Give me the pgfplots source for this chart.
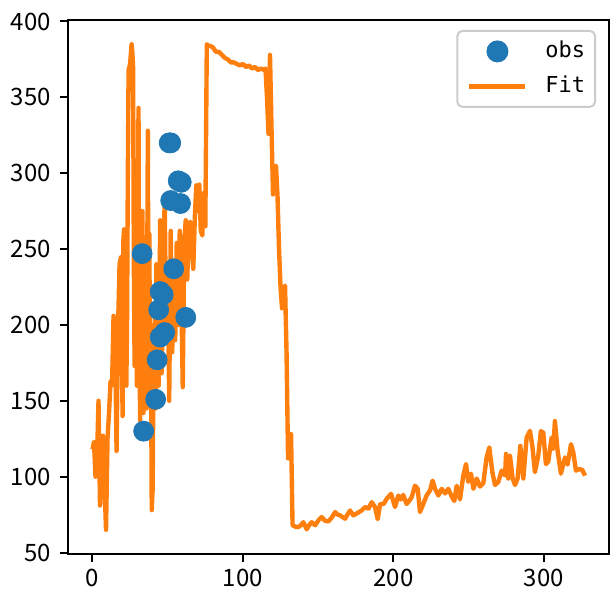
\documentclass[border=0pt]{standalone}
\usepackage{pgfplots}
\pgfplotsset{compat=1.18}
\usepackage{fontspec}
\setmainfont{Noto Sans CJK SC}
\newfontfamily\legfont{DejaVu Sans Mono}
\definecolor{cblue}{HTML}{1F77B4}
\definecolor{corange}{HTML}{FF7F0E}
\pgfplotsset{
  mymarklegend/.style={legend image code/.code={\path[##1, fill opacity=1, draw opacity=1] plot[only marks] coordinates {(14pt,0pt)};\path[draw=none] (0pt,0) -- (38pt,0);}},
  mylinelegend/.style={legend image code/.code={\draw[##1, draw opacity=1] (0pt,0pt) -- (28pt,0pt);\path[draw=none] (28pt,0) -- (38pt,0);}},
}
\begin{document}
\begin{tikzpicture}
\begin{axis}[
  scale only axis, width=271pt, height=267.5pt,
  xmin=-16.35, xmax=343.35, ymin=49, ymax=401,
  xtick={0,100,200,300}, ytick={50,100,150,200,250,300,350,400},
  xtick pos=bottom, ytick pos=left, tick align=outside,
  major tick length=4pt,
  axis line style={line width=1pt}, every tick/.style={black,line width=1pt},
  /pgf/number format/assume math mode=true,
  tick label style={font=\fontsize{12}{14}\selectfont},
  yticklabel style={xshift=-1pt},
  legend style={at={(1,1)}, anchor=north east, xshift=-6.5pt, yshift=-5pt,
    draw=black!20, line width=1pt, rounded corners=2.5pt, fill=white, fill opacity=0.8, text opacity=1,
    inner xsep=5pt, inner ysep=5pt, row sep=7pt, column sep=0pt,
    font=\legfont\fontsize{11}{13}\selectfont,
    nodes={inner sep=0pt, text height=8.5pt, text depth=2pt}},
  legend cell align=left,
]
\coordinate (ll) at (rel axis cs:0,0);
\coordinate (ur) at (rel axis cs:1,1);
\addplot[only marks, mark=*, mark size=5pt, color=cblue, mark options={fill=cblue, draw=cblue}, mymarklegend]
coordinates {
(34,130) (42,151) (43,177) (45,192) (48,195) (44,210) (47,220) (45,222) (33,247) (54,237)
(62,205) (52,282) (58.5,280) (57,295) (59,294) (51,320) (52,320)
};
\addlegendentry{obs}
\addplot[color=corange, line width=2.2pt, line join=round, mylinelegend]
coordinates {
(0,118) (1,123) (2,100) (3,112) (4,150) (5,81) (6,100) (7,127) (8,95) (9,65)
(10,125) (11,142) (12,163) (13,160) (14,206) (15,195) (16,117) (17,199) (18,240) (19,245)
(20,140) (20.5,255) (21,263) (21.5,200) (22,240) (22.5,160) (23,205) (23.5,300) (24,368) (25,372)
(26,385) (26.5,380) (27,370) (27.5,240) (28,173) (28.5,250) (29,300) (29.5,160) (30,250) (30.6,343)
(31,200) (31.7,137) (32.2,275) (32.7,170) (33.2,275) (33.9,142) (34.4,240) (35,150) (35.5,210) (36,145)
(36.8,328) (37.3,160) (37.8,260) (38.3,150) (38.8,200) (39.4,78) (40,92) (40.5,165) (41,150) (41.5,205)
(42,145) (42.5,240) (43,180) (43.5,230) (44,160) (45,269) (45.5,170) (46,168) (47,230) (48,284) (49,190)
(50,235) (51,150) (52,262) (53,182) (54,240) (55,190) (56,254) (57,200) (58,262) (59,222)
(60,159) (61,255) (62,269) (63,230) (64,266) (65,268) (66,250) (67,237) (68,270) (69,292)
(70,275) (71,292.5) (72,262) (73,259) (74,287) (75,265) (76,385) (77,384)
(78,384) (80,383) (82,380) (84,380) (86,378) (88,376) (90,375) (92,373) (94,373) (96,372)
(98,371) (100,372) (102,370) (104,371) (106,369) (108,370) (110,368) (112,369) (114,368) (115,369)
(116,350) (117,326) (118,378) (119,330) (120,286) (121,300) (122,305) (123,285) (124,250) (125,225)
(126,211) (127,222) (128,226) (129,182) (130,112) (131,128) (132,128) (133,68)
(135,67) (136.9,66.8) (138.5,68) (140.2,70) (142.4,65.3) (144,68) (145.7,70) (148,68) (150.2,71.2) (152.4,73.4)
(154.5,71) (156.8,70.5) (159,73) (161.3,76.7) (163,75) (164.6,74.5) (167.9,72.3) (169.5,75) (171.2,77.7) (173.4,74.5)
(176,76) (178.9,77.7) (181.2,80) (183.5,79) (185.6,83.2) (187.8,80) (189.6,72) (191.2,82) (193.5,82) (195.6,85.4)
(198.5,88.7) (201.1,80) (203.3,87.6) (205,85) (206.6,88) (208.8,82) (210.5,84) (212.2,86.5) (214.4,94.1) (216.2,92)
(217.7,76.7) (219.9,82) (222.1,87.6) (224.4,91) (226.1,97.4) (227.7,92) (229.9,87.6) (232.1,92) (234.4,89) (236.5,92)
(238.8,87) (240.5,84) (242.1,94) (244.3,85) (246.5,100.7) (248.3,108.3) (249.8,96.6) (251.6,102) (253.2,92) (255.4,98.8)
(257.6,93.5) (259.8,95.7) (262,112.7) (263.8,119.3) (265.8,103) (267.6,94.5) (269.8,96.6) (272,104) (274.3,100.8) (274.9,115)
(276.4,98.8) (277.5,114) (279.3,98.8) (280.9,94.5) (282.6,98.8) (284.4,120.3) (286.4,98.8) (288.6,125.8) (290.8,130.2) (292.4,120.3)
(294.1,103) (296.3,113.6) (298.1,130) (299.7,129) (301.4,108.3) (303,110) (305.2,125.8) (306.3,118.3) (307.4,136.7) (309.2,117)
(311.4,102) (314.1,112.7) (315.8,108) (318.1,121.4) (319.6,116) (321.4,104) (323.6,105) (325.6,104.5) (327.4,100.7)
};
\addlegendentry{Fit}
\end{axis}
\pgfresetboundingbox
\path ([shift={(-34pt,-20.5pt)}]ll) rectangle ([shift={(0.5pt,10pt)}]ur);
\end{tikzpicture}
\end{document}
